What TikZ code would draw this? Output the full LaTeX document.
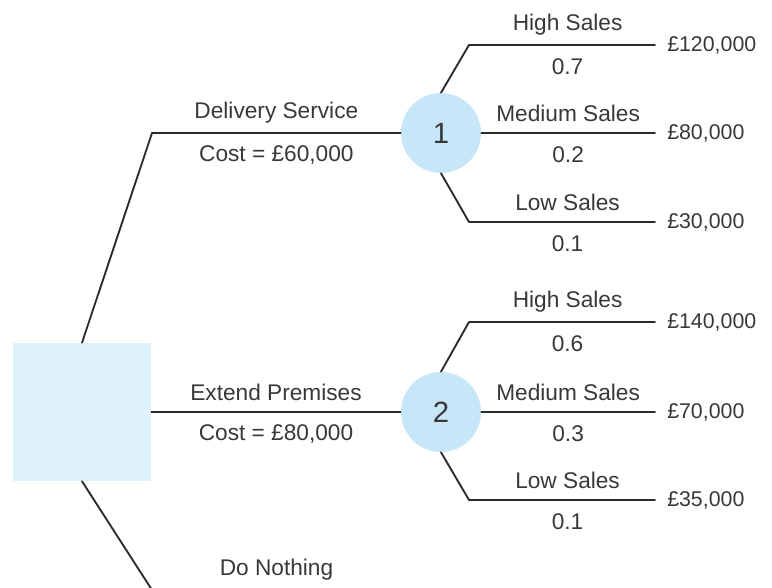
\documentclass[tikz,border=0pt]{standalone}
\usepackage{fontspec}
\setmainfont{Liberation Sans}
\usepackage{xcolor}
\usetikzlibrary{positioning}
\definecolor{ink}{HTML}{383838}
\definecolor{stroke}{HTML}{2B2B2B}
\definecolor{decfill}{HTML}{DFF2FB}
\definecolor{chfill}{HTML}{C7E7F8}
\tikzset{
  branch/.style={draw=stroke, line width=1.4pt, line cap=round, line join=round},
  decision/.style={rectangle, fill=decfill, minimum size=103.5pt, inner sep=0pt},
  chance/.style={circle, fill=chfill, minimum size=60pt, inner sep=0pt, text=ink, font=\fontsize{22}{26}\selectfont},
  lab/.style={text=ink, font=\fontsize{17}{20}\selectfont, inner sep=0pt},
  up/.style={lab, midway, yshift=15pt},
  down/.style={lab, midway, yshift=-16.5pt},
  oup/.style={up, pos=0.53},
  odown/.style={down, pos=0.53},
  pay/.style={lab, anchor=west, font=\fontsize{16}{20}\selectfont},
}

\begin{document}
\begin{tikzpicture}[x=0.75pt,y=-0.75pt]
  \useasboundingbox (0,0) rectangle (772,588);
  \clip (0,0) rectangle (772,588);
  % decision square and chance circles
  \node[decision] (dec) at (82,412) {};
  \node[chance] (c1) at (441,133) {1};
  \node[chance] (c2) at (441,412) {2};
  % bends and ends of the options
  \coordinate (d1) at (152,133);
  \coordinate (d3) at (152,590);
  \coordinate (n3) at (401,590);
  % options
  \draw[branch] (dec.north) -- (d1) -- (c1.west)
    node[up] {Delivery Service} node[down] {Cost = £60,000};
  \draw[branch] (dec.east) -- (c2.west)
    node[up] {Extend Premises} node[down] {Cost = £80,000};
  \draw[branch] (dec.south) -- (d3) -- (n3)
    node[up] {Do Nothing};
  % outcomes of 1
  \coordinate (b11) at (469,45);  \coordinate (e11) at (655,45);
  \coordinate (e12) at (655,133);
  \coordinate (b13) at (469,222); \coordinate (e13) at (655,222);
  \draw[branch] (c1.north) -- (b11) -- (e11)
    node[oup] {High Sales} node[odown] {0.7};
  \draw[branch] (c1.east) -- (e12)
    node[up] {Medium Sales} node[down] {0.2};
  \draw[branch] (c1.south) -- (b13) -- (e13)
    node[oup] {Low Sales} node[odown] {0.1};
  \node[pay, right=9pt of e11] (p11) {£120,000};
  \node[pay, right=9pt of e12] (p12) {£80,000};
  \node[pay, right=9pt of e13] (p13) {£30,000};
  % outcomes of 2
  \coordinate (b21) at (469,322); \coordinate (e21) at (655,322);
  \coordinate (e22) at (655,412);
  \coordinate (b23) at (469,500); \coordinate (e23) at (655,500);
  \draw[branch] (c2.north) -- (b21) -- (e21)
    node[oup] {High Sales} node[odown] {0.6};
  \draw[branch] (c2.east) -- (e22)
    node[up] {Medium Sales} node[down] {0.3};
  \draw[branch] (c2.south) -- (b23) -- (e23)
    node[oup] {Low Sales} node[odown] {0.1};
  \node[pay, right=9pt of e21] (p21) {£140,000};
  \node[pay, right=9pt of e22] (p22) {£70,000};
  \node[pay, right=9pt of e23] (p23) {£35,000};
\end{tikzpicture}
\end{document}
